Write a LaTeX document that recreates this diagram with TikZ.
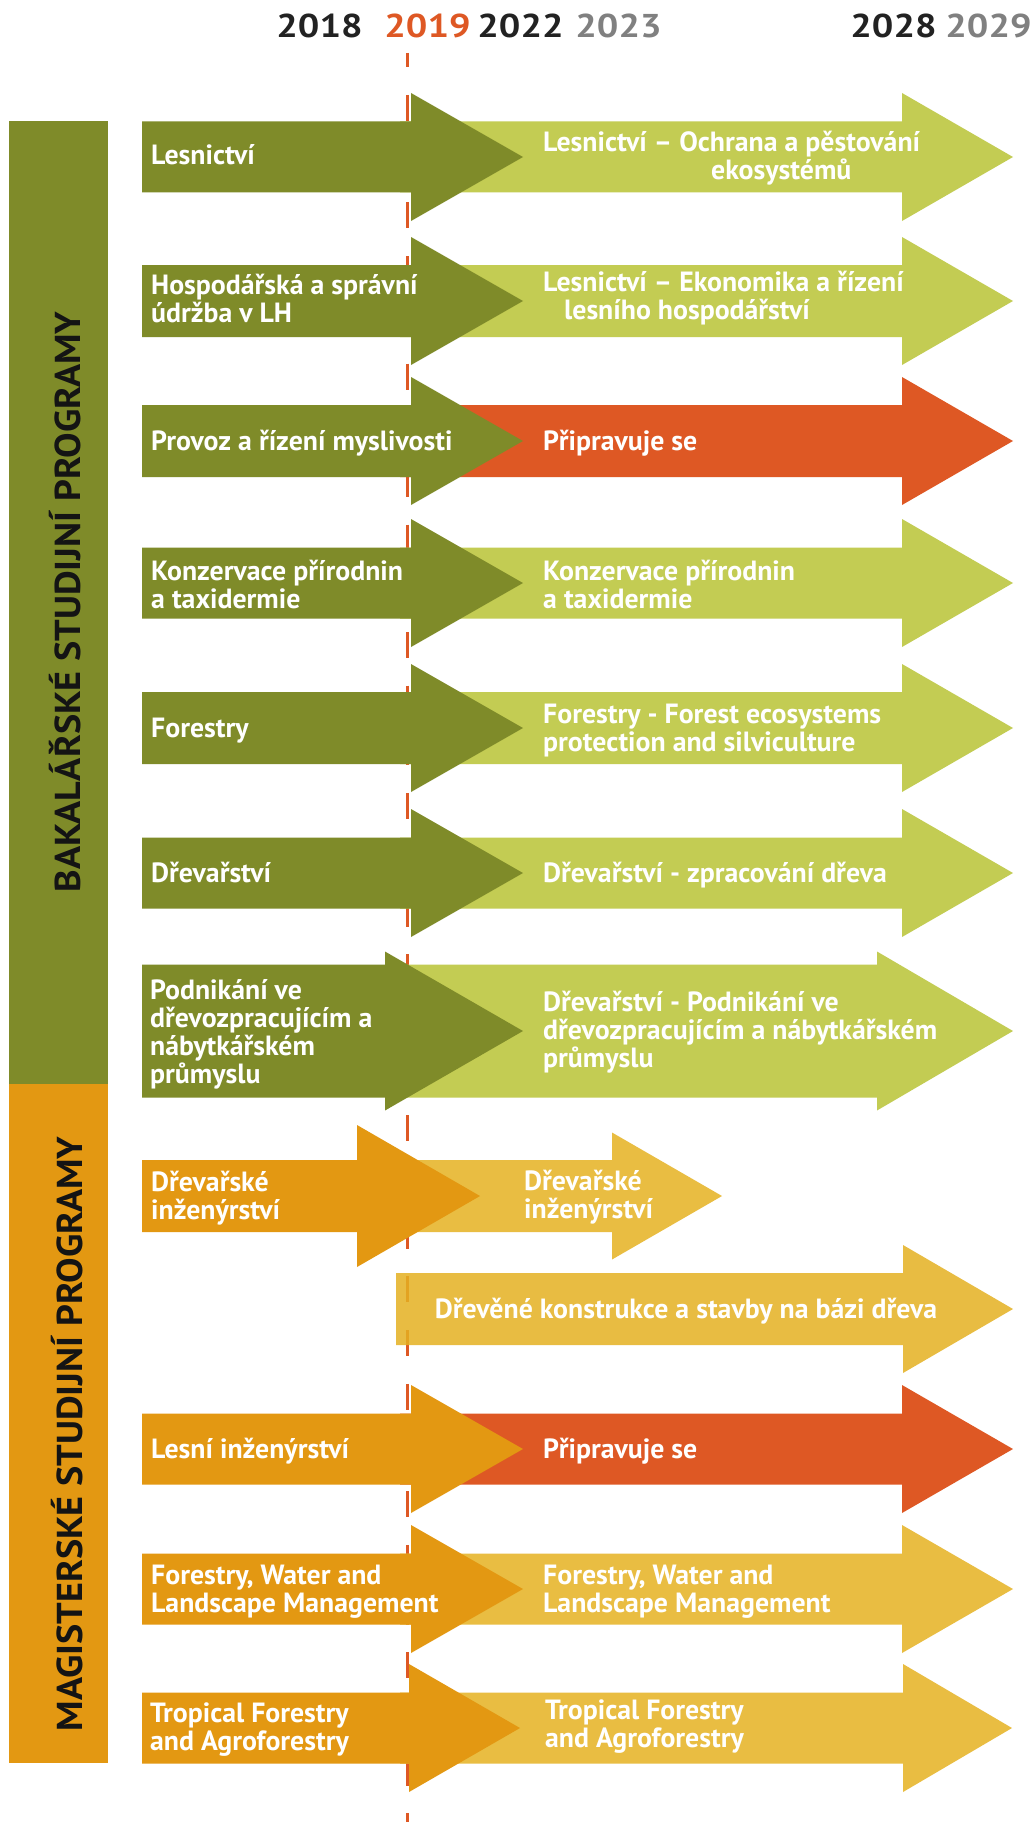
\documentclass[tikz,border=0pt]{standalone}
\usepackage{fontspec}
\setmainfont{PT Sans}
\definecolor{dgreen}{RGB}{127,139,41}
\definecolor{lgreen}{RGB}{195,204,83}
\definecolor{hot}{RGB}{222,88,36}
\definecolor{dorange}{RGB}{227,152,18}
\definecolor{lorange}{RGB}{233,189,66}
\definecolor{lorangeT}{RGB}{229,177,33}
\definecolor{ydark}{RGB}{34,34,34}
\definecolor{ygray}{RGB}{128,128,128}
\definecolor{sidetext}{RGB}{20,20,20}
\newcommand\arw[7]{%
  \fill[#1] ({#2},{#5-#6}) -- ({#3},{#5-#6}) -- ({#3},{#5-#7}) -- ({#4},{#5})
    -- ({#3},{#5+#7}) -- ({#3},{#5+#6}) -- ({#2},{#5+#6}) -- cycle;}
\newcommand\pbx[1]{\parbox[t]{560pt}{\raggedright #1}}
\newcommand\wideyr[1]{\scalebox{1.15}[1]{#1}}
\newcommand\widesd[1]{\scalebox{1.06}[1]{#1}}
\begin{document}
\begin{tikzpicture}[x=1pt,y=-1pt,
  lbl/.style={anchor=base west, inner sep=0pt, text=white, font=\fontsize{27.8}{28}\selectfont\bfseries},
  yr/.style={anchor=base, inner sep=0pt, font=\fontsize{33}{33}\selectfont\bfseries},
  side/.style={rotate=90, anchor=base, inner sep=0pt, text=sidetext, font=\fontsize{36}{36}\selectfont\bfseries},
  timeline/.style={draw=hot, line width=3pt, dash pattern=on 26pt off 27.7pt, dash phase=11.7pt}]
\useasboundingbox (0,0) rectangle (1032,1822);
\fill[white] (0,0) rectangle (1032,1822);
% years
\node[yr, text=ydark] (y2018) at (319.5,38) {\wideyr{2018}};
\node[yr, text=hot]   (y2019) at (427.5,38) {\wideyr{2019}};
\node[yr, text=ydark] (y2022) at (520.5,38) {\wideyr{2022}};
\node[yr, text=ygray] (y2023) at (618.5,38) {\wideyr{2023}};
\node[yr, text=ydark] (y2028) at (893.5,38) {\wideyr{2028}};
\node[yr, text=ygray] (y2029) at (988.5,38) {\wideyr{2029}};
% timeline
\coordinate (tltop) at (407,53);
\coordinate (tlbot) at (407,1822);
\draw[timeline] (tltop) -- (tlbot);
% side bars
\fill[dgreen] (9,121) rectangle (108,1084);
\fill[dorange] (9,1084) rectangle (108,1763);
\node[side] (bak) at (80,602) {\widesd{BAKALÁŘSKÉ STUDIJNÍ PROGRAMY}};
\node[side] (mag) at (82,1434) {\widesd{MAGISTERSKÉ STUDIJNÍ PROGRAMY}};
% ---- right arrows
\arw{lgreen}{400}{902}{1013}{157}{35.5}{64}
\arw{lgreen}{400}{902}{1013}{301}{36}{64}
\arw{hot}{400}{902}{1013}{441}{36}{64}
\arw{lgreen}{400}{902}{1013}{583}{35.5}{64}
\arw{lgreen}{400}{902}{1013}{728}{36}{64}
\arw{lgreen}{400}{902}{1013}{873}{35.5}{64}
\arw{lgreen}{400}{877}{1013}{1031}{66.5}{79.5}
\arw{lorange}{400}{612}{722}{1196}{36}{63.5}
\arw{lorangeT, fill opacity=0.85}{396}{903}{1013}{1309}{36}{64}
\arw{hot}{400}{902}{1013}{1449}{35.5}{64}
\arw{lorange}{400}{902}{1013}{1589}{35.5}{64}
\arw{lorange}{400}{903}{1012}{1728}{35.5}{64}
% ---- left arrows
\arw{dgreen}{142}{411}{523}{157}{35.5}{64}
\arw{dgreen}{142}{411}{523}{301}{36}{64}
\arw{dgreen}{142}{411}{523}{441}{36}{64}
\arw{dgreen}{142}{411}{523}{583}{35.5}{64}
\arw{dgreen}{142}{411}{523}{728}{36}{64}
\arw{dgreen}{142}{411}{523}{873}{35.5}{64}
\arw{dgreen}{142}{385}{523}{1031}{66.5}{79.5}
\arw{dorange}{142}{357}{480}{1196}{36}{71}
\arw{dorange}{142}{411}{523}{1449}{35.5}{64}
\arw{dorange}{142}{411}{523}{1589}{35.5}{64}
\arw{dorange}{142}{409}{520}{1728}{35.5}{64}
% ---- labels left
\node[lbl] (l1) at (151,165) {Lesnictví};
\node[lbl] (l2) at (151,294) {\pbx{Hospodářská a správní\\údržba v LH}};
\node[lbl] (l3) at (151,450) {Provoz a řízení myslivosti};
\node[lbl] (l4) at (151,580) {\pbx{Konzervace přírodnin\\a taxidermie}};
\node[lbl] (l5) at (151,737) {Forestry};
\node[lbl] (l6) at (151,882) {Dřevařství};
\node[lbl] (l7) at (150,999) {\pbx{Podnikání ve\\dřevozpracujícím a\\nábytkářském\\průmyslu}};
\node[lbl] (l8) at (151,1191) {\pbx{Dřevařské\\inženýrství}};
\node[lbl] (l10) at (151,1458) {Lesní inženýrství};
\node[lbl] (l11) at (151,1584) {\pbx{Forestry, Water and\\Landscape Management}};
\node[lbl] (l12) at (150,1722) {\pbx{Tropical Forestry\\and Agroforestry}};
% ---- labels right
\node[lbl] (r1) at (543,152) {\pbx{Lesnictví – Ochrana a pěstování\\\hspace*{168pt}ekosystémů}};
\node[lbl] (r2) at (543,291) {\pbx{Lesnictví – Ekonomika a řízení\\\hspace*{21pt}lesního hospodářství}};
\node[lbl] (r3) at (543,450) {Připravuje se};
\node[lbl] (r4) at (543,580) {\pbx{Konzervace přírodnin\\a taxidermie}};
\node[lbl] (r5) at (543,723) {\pbx{Forestry - Forest ecosystems\\protection and silviculture}};
\node[lbl] (r6) at (543,882) {Dřevařství - zpracování dřeva};
\node[lbl] (r7) at (543,1011) {\pbx{Dřevařství - Podnikání ve\\dřevozpracujícím a nábytkářském\\průmyslu}};
\node[lbl] (r8) at (524,1190) {\pbx{Dřevařské\\inženýrství}};
\node[lbl, anchor=base] (r9) at (686,1318) {Dřevěné konstrukce a stavby na bázi dřeva};
\node[lbl] (r10) at (543,1458) {Připravuje se};
\node[lbl] (r11) at (543,1584) {\pbx{Forestry, Water and\\Landscape Management}};
\node[lbl] (r12) at (545,1719) {\pbx{Tropical Forestry\\and Agroforestry}};
\end{tikzpicture}
\end{document}
